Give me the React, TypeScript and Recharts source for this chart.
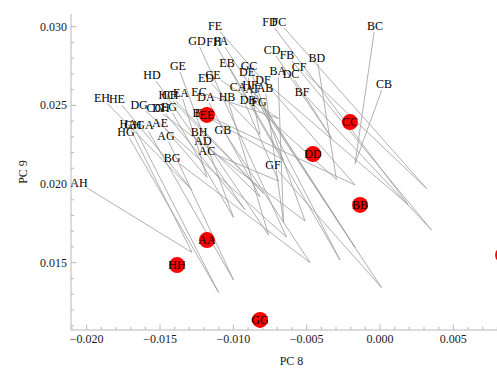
import React from 'react';
import { ScatterChart, Scatter, XAxis, YAxis, ReferenceLine } from 'recharts';

// Parental lines (plotted as red dots, labelled in place)
const parentNames = ['AA', 'BB', 'CC', 'DD', 'EE', 'FF', 'GG', 'HH'];
const parentPC8 = [-0.0118, -0.00136, -0.00205, -0.00457, -0.0118, 0.00839, -0.00818, -0.01384];
const parentPC9 = [0.01644, 0.01867, 0.02394, 0.02191, 0.02439, 0.01549, 0.01136, 0.01485];

// Crosses (one score per pair of parents, shared by reciprocal crosses)
const crossNames = [
  'AB', 'AC', 'AD', 'AE', 'AF', 'AG', 'AH',
  'BC', 'BD', 'BE', 'BF', 'BG', 'BH',
  'CD', 'CE', 'CF', 'CG', 'CH',
  'DE', 'DF', 'DG', 'DH',
  'EF', 'EG', 'EH',
  'FG', 'FH',
  'GH',
];
const crossPC8 = [
  -0.00658, -0.00692, -0.00818, -0.0118, -0.0017, -0.00999, -0.01282,
  -0.0017, -0.00297, -0.00658, 0.00351, -0.00477, -0.0076,
  -0.00331, -0.00692, 0.00317, -0.00511, -0.00794,
  -0.00818, 0.00191, -0.00638, -0.00921,
  -0.0017, -0.00999, -0.01282,
  0.0001, -0.00273,
  -0.01101,
];
const crossPC9 = [
  0.01755, 0.02019, 0.01918, 0.02042, 0.01597, 0.0139, 0.01565,
  0.0213, 0.02029, 0.02153, 0.01708, 0.01501, 0.01676,
  0.02293, 0.02417, 0.01972, 0.01765, 0.0194,
  0.02315, 0.0187, 0.01663, 0.01838,
  0.01994, 0.01787, 0.01962,
  0.01342, 0.01517,
  0.01311,
];

// Callout label placements (in PC units) for every ordered cross
const calloutNames = [
  'AB', 'AC', 'AD', 'AE', 'AF', 'AG', 'AH',
  'BA', 'BC', 'BD', 'BE', 'BF', 'BG', 'BH',
  'CA', 'CB', 'CD', 'CE', 'CF', 'CG', 'CH',
  'DA', 'DB', 'DC', 'DE', 'DF', 'DG', 'DH',
  'EA', 'EB', 'EC', 'ED', 'EF', 'EG', 'EH',
  'FA', 'FB', 'FC', 'FD', 'FE', 'FG', 'FH',
  'GA', 'GB', 'GC', 'GD', 'GE', 'GF', 'GH',
  'HA', 'HB', 'HC', 'HD', 'HE', 'HF', 'HG',
];
const calloutPC8 = [
  -0.00784, -0.0118, -0.01207, -0.015, -0.00866, -0.01459, -0.02053,
  -0.00696, -0.00034, -0.0043, -0.01227, -0.00532, -0.01418, -0.01234,
  -0.00968, 0.00027, -0.00736, -0.01139, -0.00552, -0.01535, -0.01432,
  -0.01187, -0.009, -0.00607, -0.00907, -0.00798, -0.01643, -0.01494,
  -0.01357, -0.01043, -0.01234, -0.01187, -0.01214, -0.01439, -0.01896,
  -0.01084, -0.00634, -0.00689, -0.0075, -0.01125, -0.00825, -0.01132,
  -0.01603, -0.01071, -0.00893, -0.01248, -0.01378, -0.0073, -0.01684,
  -0.01718, -0.01043, -0.01453, -0.01555, -0.01794, -0.00887, -0.01732,
];
const calloutPC9 = [
  0.0261, 0.0221, 0.02273, 0.02388, 0.02604, 0.02305, 0.02007,
  0.02718, 0.03004, 0.02801, 0.02451, 0.02585, 0.02165, 0.02331,
  0.02617, 0.02636, 0.02852, 0.02693, 0.02744, 0.02483, 0.02566,
  0.02553, 0.02534, 0.02699, 0.02712, 0.02661, 0.02502, 0.02483,
  0.02579, 0.02769, 0.02585, 0.02674, 0.02451, 0.02489, 0.02547,
  0.02909, 0.0282, 0.0303, 0.0303, 0.03004, 0.02521, 0.02903,
  0.02375, 0.02343, 0.0275, 0.02909, 0.0275, 0.02121, 0.02375,
  0.02382, 0.02553, 0.02566, 0.02693, 0.0254, 0.02629, 0.02331,
];

// Axis ticks
const xMajorTicks = [-0.02, -0.015, -0.01, -0.005, 0, 0.005];
const xMinorTicks = [
  -0.021, -0.019, -0.018, -0.017, -0.016, -0.014, -0.013, -0.012, -0.011,
  -0.009, -0.008, -0.007, -0.006, -0.004, -0.003, -0.002, -0.001,
  0.001, 0.002, 0.003, 0.004, 0.006, 0.007, 0.008, 0.009,
];
const yMajorTicks = [0.015, 0.02, 0.025, 0.03];
const yMinorTicks = [
  0.011, 0.012, 0.013, 0.014, 0.016, 0.017, 0.018, 0.019,
  0.021, 0.022, 0.023, 0.024, 0.026, 0.027, 0.028, 0.029, 0.03,
];

// Layout
const CHART_W = 520;
const CHART_H = 376;
const MARGIN = { top: 14, right: 8, bottom: 16, left: 11 };
const Y_AXIS_W = 60;
const X_AXIS_H = 30;
const X_DOMAIN: [number, number] = [-0.02107, 0.009];
const Y_DOMAIN: [number, number] = [0.010722, 0.030807];

const PLOT_W = CHART_W - MARGIN.left - MARGIN.right - Y_AXIS_W;
const PLOT_H = CHART_H - MARGIN.top - MARGIN.bottom - X_AXIS_H;
const PX_PER_X = PLOT_W / (X_DOMAIN[1] - X_DOMAIN[0]);
const PX_PER_Y = PLOT_H / (Y_DOMAIN[1] - Y_DOMAIN[0]);

const FONT = '"Liberation Serif", "DejaVu Serif", serif';
const FRAME = '#b8b8b8';
const LEADER = '#9c9c9c';

const parents = parentNames.map((name, i) => ({ name, x: parentPC8[i], y: parentPC9[i] }));
const crossIndex: Record<string, number> = {};
crossNames.forEach((n, i) => (crossIndex[n] = i));

// Half extents of a callout label box, in px
const BOX_HW = 8;
const BOX_HH = 6;

const callouts = calloutNames.map((name, i) => {
  const key = name.split('').sort().join('');
  const ci = crossIndex[key];
  const px = crossPC8[ci];
  const py = crossPC9[ci];
  const lx = calloutPC8[i];
  const ly = calloutPC9[i];
  // leader starts where it leaves the label box
  const dxPx = (px - lx) * PX_PER_X;
  const dyPx = (py - ly) * PX_PER_Y;
  const t = Math.min(
    Math.abs(dxPx) > 0 ? BOX_HW / Math.abs(dxPx) : Infinity,
    Math.abs(dyPx) > 0 ? BOX_HH / Math.abs(dyPx) : Infinity,
    1,
  );
  return {
    name,
    x: lx,
    y: ly,
    sx: lx + (px - lx) * t,
    sy: ly + (py - ly) * t,
    px,
    py,
  };
});

const isMajor = (v: number, majors: number[]) => majors.some((m) => Math.abs(m - v) < 1e-9);
const fmt = (v: number) => {
  const s = Math.abs(v).toFixed(3);
  return v < -1e-12 ? '\u2212' + s : s;
};

const BottomTick = (props: any) => {
  const { x, y, payload } = props;
  const major = isMajor(payload.value, xMajorTicks);
  return (
    <g>
      <line x1={x} x2={x} y1={y} y2={y - (major ? 5.5 : 3)} stroke={FRAME} strokeWidth={1} />
      {major && (
        <text x={x} y={y + 13} textAnchor="middle" fontFamily={FONT} fontSize={12} fill="#1a1a1a">
          {fmt(payload.value)}
        </text>
      )}
    </g>
  );
};

const TopTick = (props: any) => {
  const { x, y, payload } = props;
  const major = isMajor(payload.value, xMajorTicks);
  return <line x1={x} x2={x} y1={y} y2={y + (major ? 5.5 : 3)} stroke={FRAME} strokeWidth={1} />;
};

const LeftTick = (props: any) => {
  const { x, y, payload } = props;
  const major = isMajor(payload.value, yMajorTicks);
  return (
    <g>
      <line x1={x} x2={x + (major ? 5.5 : 3)} y1={y} y2={y} stroke={FRAME} strokeWidth={1} />
      {major && (
        <text x={x - 4} y={y + 4} textAnchor="end" fontFamily={FONT} fontSize={12} fill="#1a1a1a">
          {fmt(payload.value)}
        </text>
      )}
    </g>
  );
};

const ParentDot = (props: any) => {
  const { cx, cy, payload } = props;
  return (
    <g>
      <circle cx={cx} cy={cy} r={8} fill="#ff0000" />
      <text x={cx} y={cy + 4} textAnchor="middle" fontFamily={FONT} fontSize={12} fill="#000">
        {payload.name}
      </text>
    </g>
  );
};

const CalloutLabel = (props: any) => {
  const { cx, cy, payload } = props;
  return (
    <text x={cx} y={cy + 4} textAnchor="middle" fontFamily={FONT} fontSize={12} fill="#000">
      {payload.name}
    </text>
  );
};

const allXTicks = [...xMajorTicks, ...xMinorTicks].sort((a, b) => a - b);
const allYTicks = [...yMajorTicks, ...yMinorTicks.filter((v) => !isMajor(v, yMajorTicks))].sort((a, b) => a - b);

export default function App() {
  return (
    <div style={{ position: 'absolute', left: 0, top: 0, width: 497, height: 376, overflow: 'hidden', background: '#fff' }}>
      <ScatterChart width={CHART_W} height={CHART_H} margin={MARGIN}>
        <XAxis
          xAxisId="bottom"
          type="number"
          dataKey="x"
          domain={X_DOMAIN}
          allowDataOverflow
          ticks={allXTicks}
          interval={0}
          tickSize={0}
          tickMargin={0}
          tickLine={false}
          tick={<BottomTick />}
          height={X_AXIS_H}
          axisLine={{ stroke: FRAME }}
          label={(p: any) => {
            const vb = p.viewBox || {};
            return (
              <text x={vb.x + vb.width / 2} y={vb.y + 35} textAnchor="middle" fontFamily={FONT} fontSize={12} fill="#1a1a1a">
                PC 8
              </text>
            );
          }}
        />
        <XAxis
          xAxisId="top"
          orientation="top"
          type="number"
          dataKey="x"
          domain={X_DOMAIN}
          allowDataOverflow
          ticks={allXTicks}
          interval={0}
          tickSize={0}
          tickMargin={0}
          tickLine={false}
          tick={<TopTick />}
          height={0}
          axisLine={{ stroke: FRAME }}
        />
        <YAxis
          yAxisId="left"
          type="number"
          dataKey="y"
          domain={Y_DOMAIN}
          allowDataOverflow
          ticks={allYTicks}
          interval={0}
          tickSize={0}
          tickMargin={0}
          tickLine={false}
          tick={<LeftTick />}
          width={Y_AXIS_W}
          axisLine={{ stroke: FRAME }}
          label={(p: any) => {
            const vb = p.viewBox || {};
            const cx = vb.x + 16;
            const cy = vb.y + vb.height / 2;
            return (
              <text x={cx} y={cy} transform={`rotate(-90 ${cx} ${cy})`} textAnchor="middle" fontFamily={FONT} fontSize={12} fill="#1a1a1a">
                PC 9
              </text>
            );
          }}
        />
        {callouts.map((c) => (
          <ReferenceLine
            key={'leader-' + c.name}
            xAxisId="bottom"
            yAxisId="left"
            segment={[
              { x: c.sx, y: c.sy },
              { x: c.px, y: c.py },
            ]}
            stroke={LEADER}
            strokeWidth={0.8}
            ifOverflow="visible"
          />
        ))}
        <Scatter
          xAxisId="top"
          yAxisId="left"
          data={[]}
          isAnimationActive={false}
        />
        <Scatter
          xAxisId="bottom"
          yAxisId="left"
          data={callouts}
          shape={<CalloutLabel />}
          isAnimationActive={false}
        />
        <Scatter
          xAxisId="bottom"
          yAxisId="left"
          data={parents}
          shape={<ParentDot />}
          isAnimationActive={false}
        />
      </ScatterChart>
    </div>
  );
}
